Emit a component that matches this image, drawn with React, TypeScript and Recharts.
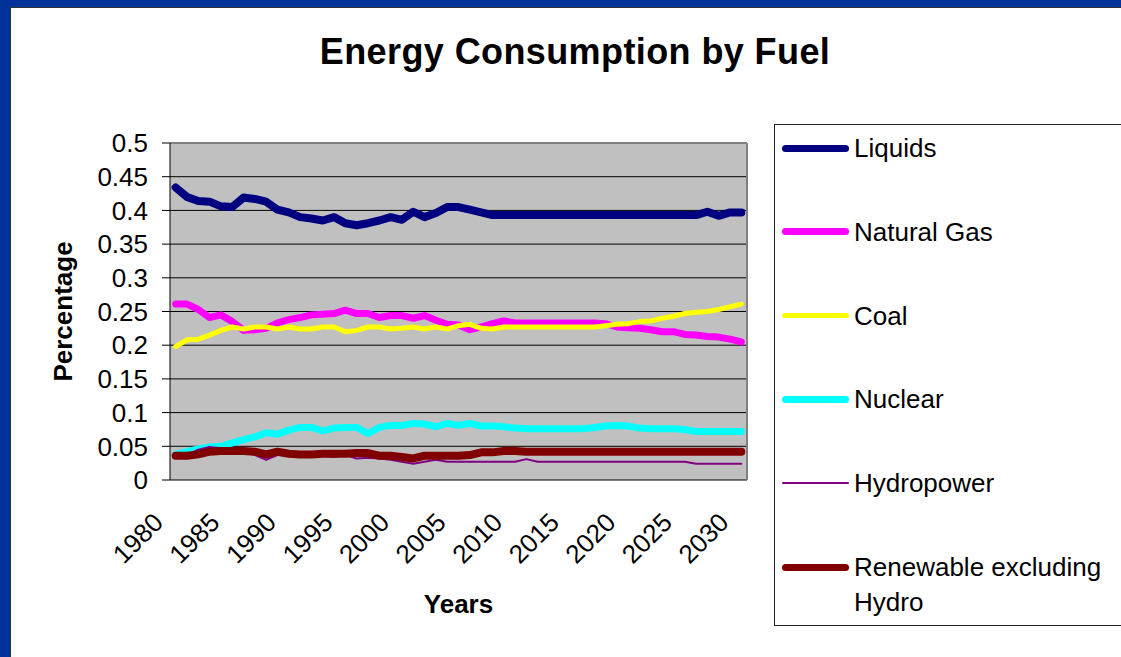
import {
  LineChart,
  Line,
  XAxis,
  YAxis,
  CartesianGrid,
  ReferenceLine,
  Legend,
} from "recharts";

const years = [
  1980, 1981, 1982, 1983, 1984, 1985, 1986, 1987, 1988, 1989, 1990, 1991, 1992,
  1993, 1994, 1995, 1996, 1997, 1998, 1999, 2000, 2001, 2002, 2003, 2004, 2005,
  2006, 2007, 2008, 2009, 2010, 2011, 2012, 2013, 2014, 2015, 2016, 2017, 2018,
  2019, 2020, 2021, 2022, 2023, 2024, 2025, 2026, 2027, 2028, 2029, 2030,
];

const liquids = [
  0.434, 0.42, 0.414, 0.413, 0.406, 0.405, 0.419, 0.417, 0.413, 0.401, 0.397,
  0.39, 0.388, 0.385, 0.39, 0.381, 0.378, 0.381, 0.385, 0.39, 0.386, 0.398,
  0.39, 0.396, 0.405, 0.405, 0.401, 0.397, 0.393, 0.393, 0.393, 0.393, 0.393,
  0.393, 0.393, 0.393, 0.393, 0.393, 0.393, 0.393, 0.393, 0.393, 0.393, 0.393,
  0.393, 0.393, 0.393, 0.398, 0.392, 0.397, 0.397,
];

const naturalGas = [
  0.261, 0.261, 0.253, 0.241, 0.245, 0.235, 0.222, 0.223, 0.225, 0.233, 0.238,
  0.241, 0.245, 0.246, 0.247, 0.252, 0.247, 0.247, 0.241, 0.244, 0.244, 0.24,
  0.244, 0.237, 0.231, 0.23, 0.223, 0.227, 0.232, 0.236, 0.233, 0.233, 0.233,
  0.233, 0.233, 0.233, 0.233, 0.233, 0.232, 0.227, 0.226, 0.225, 0.223, 0.22,
  0.22, 0.216, 0.215, 0.213, 0.212, 0.209, 0.205,
];

const coal = [
  0.198, 0.208, 0.209, 0.215, 0.222, 0.227, 0.224, 0.227, 0.227, 0.224, 0.227,
  0.224, 0.224, 0.227, 0.227, 0.22, 0.222, 0.227, 0.227, 0.224, 0.225, 0.227,
  0.224, 0.227, 0.224, 0.229, 0.231, 0.225, 0.224, 0.227, 0.227, 0.227, 0.227,
  0.227, 0.227, 0.227, 0.227, 0.227, 0.229, 0.231, 0.232, 0.235, 0.236, 0.24,
  0.243, 0.247, 0.249, 0.25, 0.253, 0.257, 0.261,
];

const nuclear = [
  0.038, 0.042, 0.046, 0.049, 0.05, 0.055, 0.06, 0.064, 0.07, 0.068, 0.074,
  0.078, 0.078, 0.073, 0.077, 0.078, 0.078, 0.069, 0.078, 0.081, 0.081, 0.084,
  0.083, 0.079, 0.084, 0.081, 0.084, 0.08, 0.08, 0.079, 0.077, 0.076, 0.076,
  0.076, 0.076, 0.076, 0.076, 0.078, 0.08, 0.081, 0.08, 0.077, 0.076, 0.076,
  0.076, 0.075, 0.072, 0.072, 0.072, 0.072, 0.072,
];

const hydropower = [
  0.036, 0.037, 0.045, 0.049, 0.047, 0.045, 0.043, 0.037, 0.03, 0.037, 0.038,
  0.037, 0.034, 0.036, 0.034, 0.037, 0.032, 0.033, 0.032, 0.03, 0.027, 0.024,
  0.027, 0.03, 0.027, 0.027, 0.027, 0.027, 0.027, 0.027, 0.027, 0.031, 0.027,
  0.027, 0.027, 0.027, 0.027, 0.027, 0.027, 0.027, 0.027, 0.027, 0.027, 0.027,
  0.027, 0.027, 0.024, 0.024, 0.024, 0.024, 0.024,
];

const renewable = [
  0.036, 0.036, 0.038, 0.042, 0.043, 0.043, 0.043, 0.042, 0.038, 0.042, 0.039,
  0.038, 0.038, 0.039, 0.039, 0.039, 0.04, 0.04, 0.036, 0.036, 0.034, 0.032,
  0.036, 0.036, 0.036, 0.036, 0.037, 0.041, 0.041, 0.043, 0.043, 0.042, 0.042,
  0.042, 0.042, 0.042, 0.042, 0.042, 0.042, 0.042, 0.042, 0.042, 0.042, 0.042,
  0.042, 0.042, 0.042, 0.042, 0.042, 0.042, 0.042,
];

const yTicks = [0, 0.05, 0.1, 0.15, 0.2, 0.25, 0.3, 0.35, 0.4, 0.45, 0.5];
const yearLabels = [1980, 1985, 1990, 1995, 2000, 2005, 2010, 2015, 2020, 2025, 2030];

// tick marks sit on the category boundaries, between the years
const boundaryTicks = [...years.map((y) => y - 0.5), years[years.length - 1] + 0.5];

const series = [
  { key: "liquids", name: "Liquids", color: "#000080", width: 8, legendWidth: 7 },
  { key: "naturalGas", name: "Natural Gas", color: "#FF00FF", width: 7, legendWidth: 7 },
  { key: "coal", name: "Coal", color: "#FFFF00", width: 5, legendWidth: 5 },
  { key: "nuclear", name: "Nuclear", color: "#00FFFF", width: 7, legendWidth: 7 },
  { key: "hydropower", name: "Hydropower", color: "#800080", width: 2, legendWidth: 2 },
  { key: "renewable", name: "Renewable excluding Hydro", color: "#800000", width: 8, legendWidth: 7 },
];

const data = years.map((year, i) => ({
  year,
  liquids: liquids[i],
  naturalGas: naturalGas[i],
  coal: coal[i],
  nuclear: nuclear[i],
  hydropower: hydropower[i],
  renewable: renewable[i],
}));

const FONT = "'Liberation Sans', Arial, sans-serif";

const YearTick = ({ x, y, payload }: any) => (
  <g transform={`translate(${x - 11},${y + 44})`}>
    <text
      transform="rotate(-45)"
      textAnchor="end"
      fontSize={26}
      fontFamily={FONT}
      fill="#000"
    >
      {payload.value}
    </text>
  </g>
);

// legend box runs off the right edge of the picture, so no right border
const CustomLegend = () => (
  <div
    style={{
      position: "relative",
      width: 400,
      height: 502,
      borderTop: "1px solid #222",
      borderLeft: "1px solid #222",
      borderBottom: "1px solid #222",
      background: "#fff",
      boxSizing: "border-box",
      fontFamily: FONT,
      fontSize: 26,
      color: "#000",
    }}
  >
    {series.map((s, i) => (
      <div key={s.key} style={{ position: "absolute", left: 0, top: 23 + i * 83.8 }}>
        <div
          style={{
            position: "absolute",
            left: 7,
            top: -s.legendWidth / 2,
            width: 67,
            height: s.legendWidth,
            borderRadius: s.legendWidth / 2,
            background: s.color,
          }}
        />
        <div
          style={{
            position: "absolute",
            left: 79,
            top: -17,
            width: 255,
            lineHeight: "35px",
            whiteSpace: "normal",
          }}
        >
          {s.name}
        </div>
      </div>
    ))}
  </div>
);

function App() {
  return (
    <div
      style={{
        position: "absolute",
        left: 0,
        top: 0,
        width: 1121,
        height: 657,
        background: "#003399",
        overflow: "hidden",
      }}
    >
      <div
        style={{
          position: "absolute",
          left: 10,
          top: 7,
          width: 1130,
          height: 670,
          background: "#fff",
          borderLeft: "1px solid #333",
          borderTop: "1px solid #333",
        }}
      />
      <div
        style={{
          position: "absolute",
          left: 0,
          top: 34,
          width: 1150,
          textAlign: "center",
          fontFamily: FONT,
          fontWeight: "bold",
          fontSize: 36,
          lineHeight: "36px",
          letterSpacing: 0.4,
        }}
      >
        Energy Consumption by Fuel
      </div>
      <LineChart
        width={1121}
        height={657}
        data={data}
        margin={{ top: 143, right: 374, bottom: 57, left: 0 }}
        style={{ position: "absolute", left: 0, top: 0 }}
      >
        <XAxis
          xAxisId="minor"
          dataKey="year"
          type="number"
          domain={[1979.5, 2030.5]}
          ticks={boundaryTicks}
          tick={false}
          tickSize={7}
          height={0}
          stroke="#000"
          axisLine={{ stroke: "#000" }}
          tickLine={{ stroke: "#000" }}
        />
        <XAxis
          xAxisId="main"
          dataKey="year"
          type="number"
          domain={[1979.5, 2030.5]}
          ticks={yearLabels}
          tick={<YearTick />}
          tickLine={false}
          axisLine={false}
          tickSize={0}
          tickMargin={0}
          height={120}
          interval={0}
          label={{
            content: ({ viewBox }: any) => (
              <text
                x={viewBox.x + viewBox.width / 2}
                y={613}
                textAnchor="middle"
                fontSize={26}
                fontWeight="bold"
                fontFamily={FONT}
                fill="#000"
              >
                Years
              </text>
            ),
          }}
        />
        <YAxis
          type="number"
          domain={[0, 0.5]}
          ticks={yTicks}
          width={170}
          interval={0}
          tickSize={8}
          tickMargin={14}
          axisLine={{ stroke: "#000" }}
          tickLine={{ stroke: "#000" }}
          tick={{ fontSize: 26, fontFamily: FONT, fill: "#000" }}
          label={{
            content: ({ viewBox }: any) => {
              const cx = viewBox.x + 72;
              const cy = viewBox.y + viewBox.height / 2;
              return (
                <text
                  x={cx}
                  y={cy}
                  transform={`rotate(-90, ${cx}, ${cy})`}
                  textAnchor="middle"
                  fontSize={26}
                  fontWeight="bold"
                  fontFamily={FONT}
                  fill="#000"
                >
                  Percentage
                </text>
              );
            },
          }}
        />
        <CartesianGrid
          xAxisId="main"
          vertical={false}
          stroke="#000"
          fill="#C0C0C0"
          fillOpacity={1}
        />
        <ReferenceLine xAxisId="main" y={0.5} stroke="#808080" strokeWidth={2} />
        <ReferenceLine xAxisId="main" x={2030.5} stroke="#808080" strokeWidth={2} />
        {series.map((s) => (
          <Line
            key={s.key}
            xAxisId="main"
            type="linear"
            dataKey={s.key}
            name={s.name}
            stroke={s.color}
            strokeWidth={s.width}
            strokeLinejoin="round"
            strokeLinecap="round"
            dot={false}
            activeDot={false}
            isAnimationActive={false}
          />
        ))}
        <Legend
          layout="vertical"
          align="center"
          verticalAlign="middle"
          content={<CustomLegend />}
          wrapperStyle={{ position: "absolute", left: 774, top: 124, width: 400, height: 502 }}
        />
      </LineChart>
    </div>
  );
}

export default App;
